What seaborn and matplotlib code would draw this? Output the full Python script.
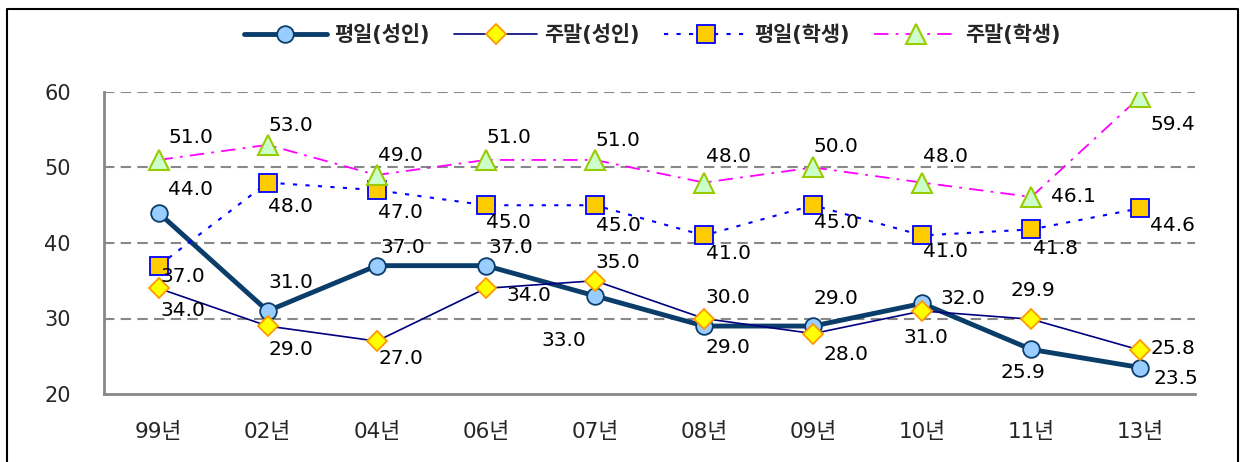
import matplotlib
matplotlib.use("Agg")
import matplotlib.pyplot as plt
import seaborn as sns
import pandas as pd
from matplotlib.lines import Line2D

# data
years = ["99년", "02년", "04년", "06년", "07년", "08년", "09년", "10년", "11년", "13년"]
weekday_adult = [44.0, 31.0, 37.0, 37.0, 33.0, 29.0, 29.0, 32.0, 25.9, 23.5]
weekend_adult = [34.0, 29.0, 27.0, 34.0, 35.0, 30.0, 28.0, 31.0, 29.9, 25.8]
weekday_student = [37.0, 48.0, 47.0, 45.0, 45.0, 41.0, 45.0, 41.0, 41.8, 44.6]
weekend_student = [51.0, 53.0, 49.0, 51.0, 51.0, 48.0, 50.0, 48.0, 46.1, 59.4]
names = ["평일(성인)", "주말(성인)", "평일(학생)", "주말(학생)"]

# label offsets in pixels (placement only)
off_wa = [(32, 23), (23, 28), (26, 18), (25, 18), (-31, -45), (24, -21), (23, 28), (41, 5), (-8, -23), (35, -11)]
off_we = [(24, -22), (23, -23), (24, -17), (43, -7), (23, 18), (24, 21), (33, -21), (4, -27), (2, 29), (32, 2)]
off_ws = [(24, -11), (23, -24), (24, -22), (23, -17), (23, -20), (24, -18), (23, -17), (23, -16), (24, -19), (32, -17)]
off_ss = [(32, 22), (23, 19), (24, 20), (23, 22), (23, 19), (24, 26), (23, 21), (23, 26), (42, 0), (32, -28)]

sns.set_style("white")
plt.rcParams['font.family'] = ['DejaVu Sans', 'Noto Sans CJK KR']

fig = plt.figure(figsize=(12.4, 4.62), dpi=100)
ax = fig.add_axes([104/1240, 68/462, 1091/1240, 302/462])

styles = [
    dict(color="#0B3D6B", lw=3.5, ls="-", marker="o", ms=12, mfc="#99CCFF", mec="#0B3D6B", mew=1.3),
    dict(color="#000080", lw=1.2, ls="-", marker="D", ms=10, mfc="#FFFF00", mec="#FF9900", mew=1.3),
    dict(color="#0000FF", lw=1.5, ls=(0, (2, 4)), marker="s", ms=13, mfc="#FFCC00", mec="#0000FF", mew=1.3),
    dict(color="#FF00FF", lw=1.3, ls=(0, (8, 4, 1.5, 4)), marker="^", ms=14, mfc="#CCFFCC", mec="#99CC00", mew=1.5),
]
series = [weekday_adult, weekend_adult, weekday_student, weekend_student]
offsets = [off_wa, off_we, off_ws, off_ss]

for vals, name, st, offs in zip(series, names, styles, offsets):
    df = pd.DataFrame({"year": years, "value": vals})
    sns.lineplot(data=df, x="year", y="value", ax=ax, label=name,
                 color=st["color"], linewidth=st["lw"], linestyle=st["ls"],
                 marker=st["marker"], markersize=st["ms"], markerfacecolor=st["mfc"],
                 markeredgecolor=st["mec"], markeredgewidth=st["mew"], sort=False)
    for i, v in enumerate(vals):
        ax.annotate(f"{v:.1f}", (i, v), xytext=offs[i], textcoords="offset pixels",
                    ha="center", va="center", fontsize=14.5, color="black")

ax.set_xlim(-0.5, len(years) - 0.5)
ax.set_ylim(20, 60)
ax.set_yticks([20, 30, 40, 50, 60])
ax.set_yticklabels(["20", "30", "40", "50", "60"], fontsize=15)
ax.set_xticks(range(len(years)))
ax.set_xticklabels(years, fontsize=15.5)
ax.set_xticks([i - 0.5 for i in range(len(years) + 1)], minor=True)
ax.tick_params(axis="x", which="major", length=0, pad=20)
ax.tick_params(axis="x", which="minor", length=7, direction="in", color="#888888", width=1.5)
ax.tick_params(axis="y", length=0, pad=24)
ax.set_xlabel("")
ax.set_ylabel("")
for y in [30, 40, 50, 60]:
    ax.axhline(y, color="#888888", lw=1.5, ls=(0, (5, 3)), zorder=0)
for s in ["top", "right"]:
    ax.spines[s].set_visible(False)
for s in ["left", "bottom"]:
    ax.spines[s].set_color("#888888")
    ax.spines[s].set_linewidth(2)

ax.get_legend().remove()
h, l = ax.get_legend_handles_labels()
fig.legend(h, l, loc="center", bbox_to_anchor=(652/1240, 1 - 35/462), ncol=4, frameon=False,
           prop={"size": 15, "weight": "bold"}, handlelength=4.0, columnspacing=1.15, handletextpad=0.35)

# outer frame (bottom edge is off the picture)
frame_x = [7/1240, 7/1240, 1238/1240, 1238/1240]
frame_y = [-0.01, 1 - 9/462, 1 - 9/462, -0.01]
fig.lines.append(Line2D(frame_x, frame_y, transform=fig.transFigure, color="black", lw=1.5))

fig.savefig("out.png", dpi=100)
